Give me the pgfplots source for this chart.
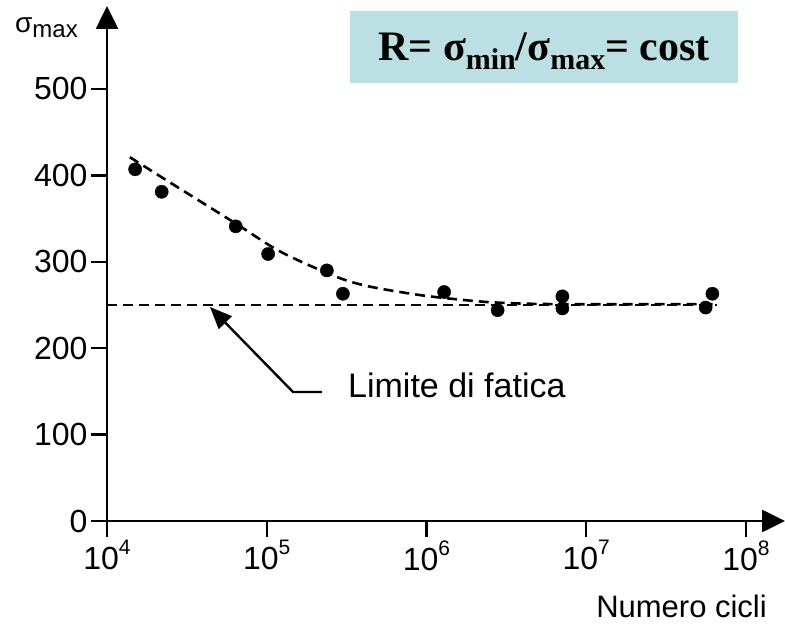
\documentclass[border=0pt]{standalone}
\usepackage{fontspec}
\setmainfont{Liberation Sans}
\newfontfamily\boxfont{Liberation Serif}
\usepackage{pgfplots}
\pgfplotsset{compat=1.18}
\usetikzlibrary{arrows.meta}
\definecolor{boxfill}{RGB}{187,223,226}
% 10^k tick labels in the text font
\newcommand{\dec}[1]{10\raisebox{15pt}{\fontsize{21}{21}\selectfont #1}}

\begin{document}
\begin{tikzpicture}[font=\fontsize{32}{36}\selectfont]
\begin{axis}[
  at={(0pt,0pt)}, anchor=south west,
  scale only axis, width=678pt, height=515pt,
  xmode=log, xmin=1e4, xmax=1.758e8, ymin=0, ymax=596,
  axis x line=bottom, axis y line=left,
  axis line style={line width=2.6pt, -{Triangle[length=23pt,width=22pt]}},
  tick align=outside, major tick length=16pt,
  tick style={line width=2.4pt, black},
  xtick={1e4,1e5,1e6,1e7,1e8},
  xticklabels={\dec{4},\dec{5},\dec{6},\dec{7},\dec{8}},
  xminorticks=false,
  ytick={0,100,...,500},
  ticklabel style={font=\fontsize{32}{36}\selectfont},
  /pgf/number format/assume math mode=true,
  clip=false,
]
% measured points
\addplot[only marks, mark=*, mark size=6.6pt, black] coordinates {
  (1.5e4,407) (2.2e4,381) (6.4e4,341) (1.02e5,309) (2.38e5,290) (3.0e5,263)
  (1.29e6,265) (2.79e6,244) (7.1e6,260) (7.1e6,246) (6.17e7,263) (5.6e7,247)
};
% fitted curve
\addplot[black, line width=2.6pt, dash pattern=on 10pt off 6pt, smooth] coordinates {
  (1.39e4,421) (2.42e4,393) (6.43e4,344) (1.21e5,312) (2.61e5,284) (4.23e5,272)
  (8.69e5,262) (1.47e6,257) (2.62e6,253) (6.3e6,251) (6.6e7,251)
};
% fatigue limit
\addplot[black, line width=2.6pt, dash pattern=on 10pt off 6pt] coordinates {
  (1e4,250) (6.6e7,250)
};
\end{axis}

\draw[line width=2.4pt, {Triangle[length=22pt,width=18pt]}-] (103pt,214pt) -- (186pt,129pt) -- (215pt,129pt);
\node[anchor=base west, inner sep=0pt, font=\fontsize{34}{36}\selectfont] at (241pt,123pt) {Limite di fatica};
\node[anchor=base east, inner sep=0pt, font=\fontsize{31}{33}\selectfont] at (660pt,-97pt) {Numero cicli};
\node[anchor=base west, inner sep=0pt, font=\fontsize{24}{26}\selectfont] at (-92pt,488pt) {{\fontsize{28}{30}\selectfont σ}\raisebox{-5pt}{max}};

\fill[boxfill] (243pt,438pt) rectangle (631pt,510pt);
\node[anchor=base, inner sep=0pt, font=\boxfont\bfseries\fontsize{42}{44}\selectfont] at (437pt,460pt)
  {R= σ\raisebox{-9pt}{\fontsize{30}{30}\selectfont min}/σ\raisebox{-9pt}{\fontsize{30}{30}\selectfont max}= cost};

\pgfresetboundingbox
\path[use as bounding box] (-107pt,-105pt) rectangle (678pt,521pt);
\end{tikzpicture}
\end{document}
